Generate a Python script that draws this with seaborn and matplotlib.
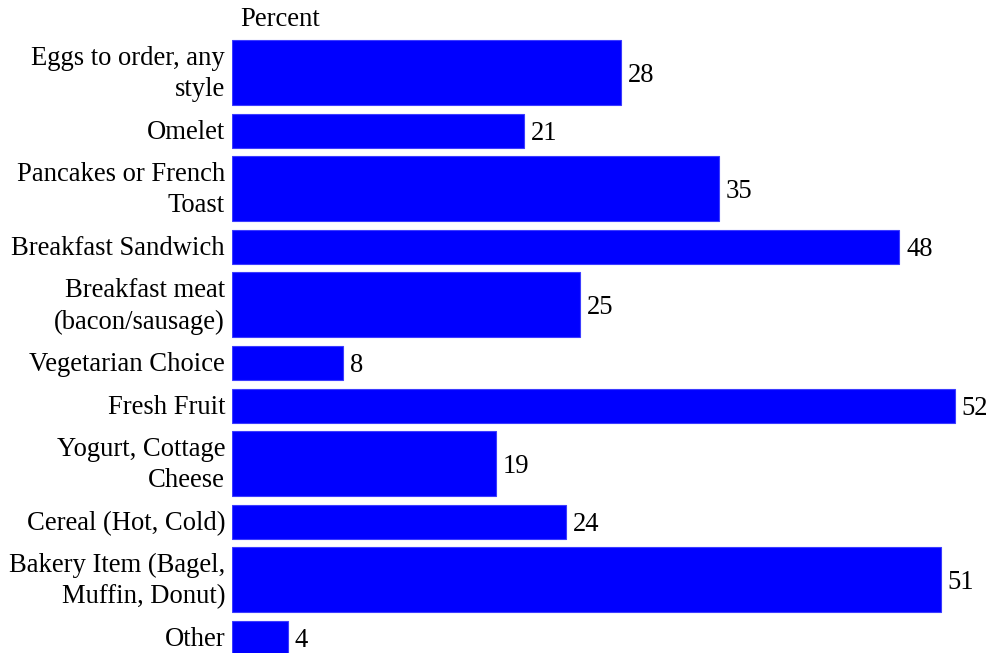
import matplotlib
matplotlib.use("Agg")
import matplotlib.pyplot as plt
import matplotlib.transforms as mtransforms
import seaborn as sns
import numpy as np
import pandas as pd

categories = [
    "Eggs to order, any\nstyle",
    "Omelet",
    "Pancakes or French\nToast",
    "Breakfast Sandwich",
    "Breakfast meat\n(bacon/sausage)",
    "Vegetarian Choice",
    "Fresh Fruit",
    "Yogurt, Cottage\nCheese",
    "Cereal (Hot, Cold)",
    "Bakery Item (Bagel,\nMuffin, Donut)",
    "Other",
]
values = [28, 21, 35, 48, 25, 8, 52, 19, 24, 51, 4]
axis_title = "Percent"

sns.set_theme(style="white")
plt.rcParams["font.family"] = ["Liberation Serif", "DejaVu Serif"]

W, H = 989, 653
fig = plt.figure(figsize=(W / 100, H / 100), dpi=100)
left_px, top_px = 232, 36
ax = fig.add_axes([left_px / W, 0, (W - left_px) / W, (H - top_px) / H])

# row layout: row height grows with the number of label lines (1 data unit = 1 px)
lines = np.array([c.count("\n") + 1 for c in categories])
row_h = 11.7 + 30.9 * lines
row_top = np.concatenate([[0], np.cumsum(row_h)[:-1]])
centers = row_top + row_h / 2
bar_h = row_h - 8.5

df = pd.DataFrame({"value": values, "pos": centers, "cat": categories})
sns.barplot(data=df, x="value", y="pos", orient="h", native_scale=True,
            color="#0000ff", saturation=1, ax=ax, edgecolor="#3c3cff",
            linewidth=0.8)

for p in ax.patches:
    c = p.get_y() + p.get_height() / 2
    i = int(np.argmin(np.abs(centers - c)))
    p.set_y(centers[i] - bar_h[i] / 2)
    p.set_height(bar_h[i])

texts = ax.bar_label(ax.containers[0], labels=[str(v) for v in df["value"]],
                     padding=5, fontsize=19.2, color="black")
for t in texts:
    t.set_va("center_baseline")

ax.set_xlim(0, (W - left_px) / 13.9)
ax.set_ylim(H - top_px, 0)
ax.set_yticks(centers)
ax.set_yticklabels(categories, fontsize=19.2, linespacing=1.33, ha="right",
                   va="center", color="black")
ax.tick_params(axis="y", length=0, pad=5, labelcolor="black")
shift = mtransforms.ScaledTranslation(0, -1.5 / 100, fig.dpi_scale_trans)
for lab in ax.get_yticklabels():
    lab.set_transform(lab.get_transform() + shift)
ax.set_xticks([])
ax.set_xlabel("")
ax.set_ylabel("")
for s in ax.spines.values():
    s.set_visible(False)

fig.text(240 / W, 1 - 19 / H, axis_title, fontsize=19.2, ha="left",
         va="center", color="black")

fig.savefig("out.png", dpi=100, facecolor="white")
